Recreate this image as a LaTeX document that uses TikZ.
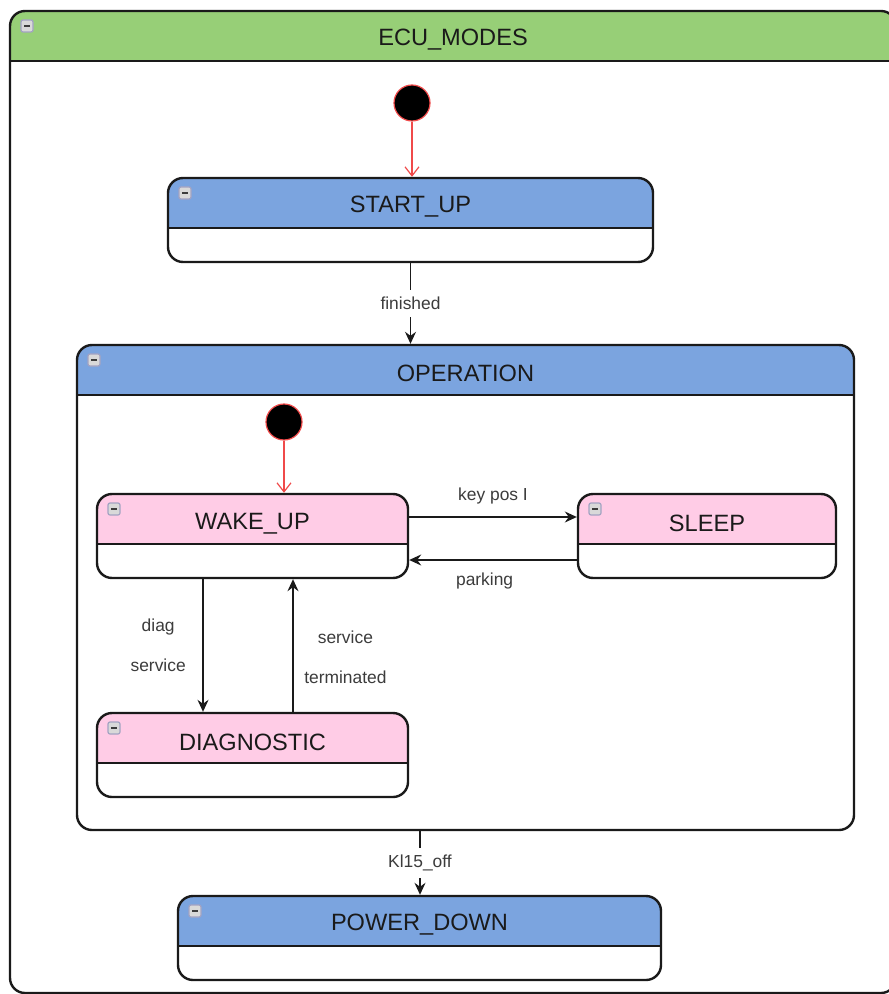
\documentclass[tikz,border=0pt]{standalone}
\usepackage{fontspec}
\setmainfont{Liberation Sans}
\usetikzlibrary{arrows.meta,calc,positioning}
\definecolor{Green}{HTML}{97CF77}
\definecolor{Blue}{HTML}{7BA4DF}
\definecolor{Pink}{HTML}{FFCCE6}
\definecolor{Red}{HTML}{F04A4A}
\definecolor{Ink}{HTML}{1A1A1A}

\begin{document}
\begin{tikzpicture}[x=.5pt,y=-.5pt,
    state/.style={draw=Ink,line width=1.2pt,rounded corners=7.5pt,fill=white,inner sep=0pt,
      path picture={
        \fill[#1,sharp corners] (path picture bounding box.north west) rectangle ([yshift=-25pt]path picture bounding box.north east);
        \draw[Ink,line width=1.2pt,sharp corners] ([yshift=-25pt]path picture bounding box.north west) -- ([yshift=-25pt]path picture bounding box.north east);
        \draw[fill=gray!30,draw=gray!80!blue!60,line width=.6pt,rounded corners=1pt] ([shift={(5.5pt,-4.5pt)}]path picture bounding box.north west) rectangle +(6pt,-6pt);
        \draw[Ink!85,line width=.8pt,sharp corners] ([shift={(7pt,-7.5pt)}]path picture bounding box.north west) -- +(3pt,0);
      }},
    title/.style={font=\fontsize{11.8}{14}\selectfont,text=Ink},
    lbl/.style={font=\fontsize{8.7}{20}\selectfont,text=Ink!85},
    init/.style={circle,fill=black,draw=Red,line width=.6pt,minimum size=18pt,inner sep=0pt},
    trans/.style={draw=Ink,line width=.6pt,-{Stealth[length=6pt,width=5.5pt,inset=2pt]}},
    start/.style={draw=Red,line width=.6pt,-{Straight Barb[length=4.5pt,width=7pt]}}]
  \useasboundingbox (0,0) rectangle (888,994);

  % outer machine
  \node[state=Green,minimum width=443pt,minimum height=491pt] (ecu) at (453,502) {};
  \node[title] at ([yshift=-15pt]ecu.north) {ECU\_MODES};

  % states
  \node[init] (top init) at (412,103) {};
  \node[state=Blue,minimum width=242.5pt,minimum height=42pt] (startup) at (410.5,220) {};
  \node[title] at ([yshift=-15pt]startup.north) {START\_UP};
  \node[state=Blue,minimum width=388.5pt,minimum height=242.5pt] (operation) at (465.5,587.5) {};
  \node[title] at ([yshift=-15pt]operation.north) {OPERATION};
  \node[init] (op init) at (284,422) {};
  \node[state=Pink,minimum width=155.5pt,minimum height=42pt] (wakeup) at (252.5,536) {};
  \node[title] at ([yshift=-15.5pt]wakeup.north) {WAKE\_UP};
  \node[state=Pink,minimum width=129pt,minimum height=42pt] (sleep) at (707,536) {};
  \node[title] at ([yshift=-15.5pt]sleep.north) {SLEEP};
  \node[state=Pink,minimum width=155.5pt,minimum height=42pt] (diagnostic) at (252.5,755) {};
  \node[title] at ([yshift=-15.5pt]diagnostic.north) {DIAGNOSTIC};
  \node[state=Blue,minimum width=241.5pt,minimum height=42pt] (powerdown) at (419.5,938) {};
  \node[title] at ([yshift=-15pt]powerdown.north) {POWER\_DOWN};

  % transitions
  \draw[start] (top init) -- (top init |- startup.north);
  \draw[trans] (startup.south) -- node[lbl,fill=white]{finished} (startup.south |- operation.north);
  \draw[start] (op init) -- (op init |- wakeup.north);
  \draw[trans] ([yshift=9.5pt]wakeup.east) -- node[lbl,above=3pt]{key pos I} ([yshift=9.5pt]sleep.west);
  \draw[trans] ([yshift=-12pt]sleep.west) -- node[lbl,below=3pt,pos=.55]{parking} ([yshift=-12pt]wakeup.east);
  \draw[trans] ([xshift=-24.75pt]wakeup.south) -- node[lbl,left=5pt,align=center]{diag\\service} ([xshift=-24.75pt]diagnostic.north);
  \draw[trans] ([xshift=20.25pt]diagnostic.north) -- node[lbl,right=2pt,yshift=-6pt,align=center]{service\\terminated} ([xshift=20.25pt]wakeup.south);
  \draw[trans] ([xshift=-22.75pt]operation.south) -- node[lbl,fill=white]{Kl15\_off} ([xshift=-22.75pt]operation.south |- powerdown.north);
\end{tikzpicture}
\end{document}
